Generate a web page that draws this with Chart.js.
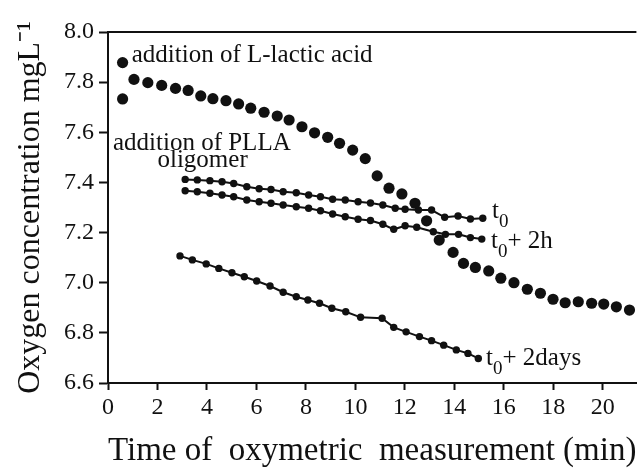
<!DOCTYPE html>
<html lang="en">
<head>
    <meta charset="UTF-8">
    <title>Oxygen concentration</title>
    <script src="https://cdn.jsdelivr.net/npm/chart.js"></script>
    <style>
        body { margin: 0; background: #fff; }
        #wrap { width: 642px; height: 468px; position: relative; }
    </style>
</head>
<body>
    <div id="wrap"><canvas id="oxyChart"></canvas></div>

    <script>
        // big dots: addition of L-lactic acid
        const lacticX = [0.59, 0.59, 1.05, 1.61, 2.17, 2.73, 3.24, 3.75, 4.24, 4.77, 5.28, 5.77, 6.31, 6.84, 7.32, 7.84, 8.35, 8.88, 9.36, 9.89,
            10.40, 10.88, 11.36, 11.88, 12.41, 12.88, 13.39, 13.95, 14.37, 14.85, 15.39, 15.88, 16.41, 16.95, 17.48, 17.99, 18.48, 19.01, 19.55, 20.04, 20.55, 21.08];
        const lacticY = [7.878, 7.733, 7.811, 7.798, 7.787, 7.775, 7.767, 7.745, 7.734, 7.726, 7.713, 7.696, 7.680, 7.665, 7.649, 7.622, 7.598, 7.580, 7.556, 7.529,
            7.495, 7.426, 7.377, 7.354, 7.317, 7.247, 7.170, 7.121, 7.077, 7.061, 7.047, 7.018, 7.000, 6.974, 6.958, 6.934, 6.920, 6.924, 6.918, 6.915, 6.904, 6.891];

        // PLLA oligomer, t0
        const t0X = [3.12, 3.61, 4.12, 4.61, 5.08, 5.61, 6.11, 6.59, 7.08, 7.61, 8.11, 8.59, 9.08, 9.59, 10.11, 10.61, 11.11, 11.61, 12.01, 12.55, 13.08, 13.61, 14.15, 14.65, 15.15];
        const t0Y = [7.412, 7.410, 7.407, 7.403, 7.396, 7.383, 7.375, 7.372, 7.363, 7.359, 7.350, 7.343, 7.333, 7.330, 7.323, 7.318, 7.310, 7.297, 7.293, 7.290, 7.290, 7.261, 7.266, 7.254, 7.257];

        // t0 + 2h
        const t2hX = [3.12, 3.61, 4.12, 4.61, 5.08, 5.61, 6.11, 6.59, 7.08, 7.61, 8.11, 8.59, 9.08, 9.59, 10.11, 10.61, 11.11, 11.55, 12.01, 12.48, 13.15, 13.64, 14.17, 14.65, 15.11];
        const t2hY = [7.367, 7.363, 7.357, 7.350, 7.343, 7.330, 7.323, 7.317, 7.310, 7.303, 7.297, 7.287, 7.274, 7.263, 7.253, 7.248, 7.233, 7.213, 7.227, 7.221, 7.203, 7.193, 7.193, 7.180, 7.174];

        // t0 + 2days
        const t2dX = [2.91, 3.41, 3.97, 4.48, 5.01, 5.51, 6.01, 6.55, 7.08, 7.61, 8.08, 8.55, 9.05, 9.61, 10.21, 11.08, 11.55, 12.05, 12.59, 13.08, 13.57, 14.08, 14.55, 14.97];
        const t2dY = [7.107, 7.091, 7.075, 7.057, 7.040, 7.024, 7.007, 6.987, 6.962, 6.944, 6.931, 6.918, 6.898, 6.884, 6.862, 6.858, 6.822, 6.804, 6.785, 6.769, 6.751, 6.732, 6.718, 6.698];

        const xTickStep = 2;
        const yTickStep = 0.2;

        const serif = '"Liberation Serif", "Times New Roman", serif';
        const ink = '#111';

        const toPoints = (xs, ys) => xs.map((x, i) => ({ x: x, y: ys[i] }));

        // text notes on the plot, anchored in data units
        const notes = [
            { x: 0.96, y: 7.880, runs: [{ t: 'addition of L-lactic acid', size: 25 }] },
            { x: 0.20, y: 7.529, runs: [{ t: 'addition of PLLA', size: 25 }] },
            { x: 2.00, y: 7.461, runs: [{ t: 'oligomer', size: 25 }] },
            { x: 15.52, y: 7.258, runs: [{ t: 't', size: 25 }, { t: '0', size: 19, dy: 9 }] },
            { x: 15.48, y: 7.138, runs: [{ t: 't', size: 25 }, { t: '0', size: 19, dy: 9 }, { t: '+ 2h', size: 25 }] },
            { x: 15.28, y: 6.672, runs: [{ t: 't', size: 25 }, { t: '0', size: 19, dy: 9 }, { t: '+ 2days', size: 25 }] },
        ];

        const notesPlugin = {
            id: 'notes',
            afterDatasetsDraw(chart) {
                const ctx = chart.ctx;
                const xs = chart.scales.x, ys = chart.scales.y;
                ctx.save();
                ctx.fillStyle = ink;
                ctx.textBaseline = 'alphabetic';
                notes.forEach(n => {
                    let px = xs.getPixelForValue(n.x);
                    const py = ys.getPixelForValue(n.y);
                    n.runs.forEach(r => {
                        ctx.font = r.size + 'px ' + serif;
                        ctx.fillText(r.t, px, py + (r.dy || 0));
                        px += ctx.measureText(r.t).width;
                    });
                });
                ctx.restore();
            }
        };

        // top frame line
        const frameTop = {
            id: 'frameTop',
            afterDraw(chart) {
                const a = chart.chartArea;
                const ctx = chart.ctx;
                ctx.save();
                ctx.strokeStyle = ink;
                ctx.lineWidth = 2;
                ctx.beginPath();
                ctx.moveTo(a.left - 1, a.top);
                ctx.lineTo(a.right, a.top);
                ctx.stroke();
                ctx.restore();
            }
        };

        const smallDots = {
            showLine: true,
            borderColor: ink,
            borderWidth: 2,
            backgroundColor: ink,
            pointRadius: 3.7,
            pointBorderWidth: 0,
        };

        new Chart(document.getElementById('oxyChart'), {
            type: 'scatter',
            data: {
                datasets: [
                    { label: 'L-lactic acid', data: toPoints(lacticX, lacticY), showLine: false, backgroundColor: ink, borderColor: ink, pointRadius: 5.6, pointBorderWidth: 0 },
                    Object.assign({ label: 't0', data: toPoints(t0X, t0Y) }, smallDots),
                    Object.assign({ label: 't0+2h', data: toPoints(t2hX, t2hY) }, smallDots),
                    Object.assign({ label: 't0+2days', data: toPoints(t2dX, t2dY) }, smallDots),
                ],
            },
            options: {
                responsive: true,
                maintainAspectRatio: false,
                animation: false,
                layout: { padding: { top: 32, right: 0, left: 0, bottom: 0 } },
                plugins: { legend: { display: false }, tooltip: { enabled: false } },
                scales: {
                    x: {
                        type: 'linear',
                        min: 0,
                        max: 21.36,
                        afterFit: s => { s.height = 85; },
                        border: { color: ink, width: 2 },
                        grid: { drawOnChartArea: false, tickLength: 7, tickColor: ink, tickWidth: 2 },
                        ticks: { stepSize: xTickStep, includeBounds: false, color: ink, padding: 3, font: { family: serif, size: 24 } },
                        title: {
                            display: true,
                            align: 'center',
                            text: 'Time of  oxymetric  measurement (min)',
                            color: ink,
                            font: { family: serif, size: 33, lineHeight: 1 },
                            padding: { top: 0, bottom: 0 },
                        },
                    },
                    y: {
                        min: 6.6,
                        max: 8.0,
                        afterFit: s => { s.width = 108; },
                        border: { color: ink, width: 2 },
                        grid: { drawOnChartArea: false, tickLength: 9, tickColor: ink, tickWidth: 2 },
                        ticks: { stepSize: yTickStep, color: ink, padding: 5, font: { family: serif, size: 24 }, callback: v => v.toFixed(1) },
                        title: {
                            display: true,
                            text: 'Oxygen concentration mgL⁻¹',
                            color: ink,
                            font: { family: serif, size: 32, lineHeight: 1 },
                            padding: { top: 15, bottom: 0 },
                        },
                    },
                },
            },
            plugins: [notesPlugin, frameTop],
        });
    </script>
</body>
</html>
